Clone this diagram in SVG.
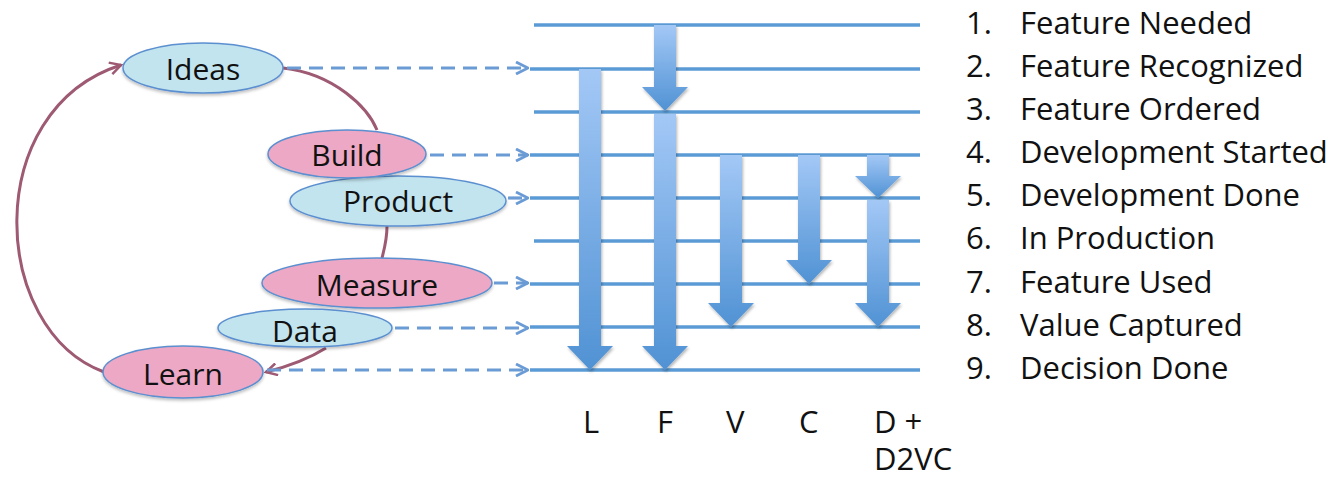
<svg xmlns="http://www.w3.org/2000/svg" width="1335" height="478" viewBox="0 0 1335 478">
<style>
text{font-family:"Open Sans","Liberation Sans",sans-serif;font-size:31px;fill:#111}
.node text{text-anchor:middle;font-size:30px}
.blue{fill:#c2e4ee;stroke:#5b8fd0;stroke-width:1.5}
.pink{fill:#eca8c4;stroke:#5b8fd0;stroke-width:1.5}
.hl{stroke:#5b9bd5;stroke-width:3.5;fill:none}
.dash{stroke:#6b9bd4;stroke-width:3.2;fill:none;stroke-dasharray:14 8;marker-end:url(#chev)}
.cyc{stroke:#9e5a73;stroke-width:3;fill:none}
.arr{fill:url(#ag);filter:url(#sh)}
</style>
<defs>
<linearGradient id="ag" x1="0" y1="0" x2="0" y2="1">
<stop offset="0" stop-color="#a3c8f6"/>
<stop offset="1" stop-color="#5092d4"/>
</linearGradient>
<filter id="sh" x="-30%" y="-10%" width="160%" height="130%">
<feDropShadow dx="1" dy="2" stdDeviation="1.5" flood-color="#000" flood-opacity="0.3"/>
</filter>
<filter id="esh" x="-10%" y="-20%" width="120%" height="150%">
<feDropShadow dx="0" dy="2" stdDeviation="1.5" flood-color="#000" flood-opacity="0.25"/>
</filter>
<marker id="chev" viewBox="0 0 14 14" refX="13" refY="7" markerWidth="14" markerHeight="14" markerUnits="userSpaceOnUse" orient="auto">
<path d="M1,1 L13,7 L1,13" fill="none" stroke="#6b9bd4" stroke-width="2.8"/>
</marker>
<marker id="mchev" viewBox="0 0 14 14" refX="12" refY="7" markerWidth="14" markerHeight="14" markerUnits="userSpaceOnUse" orient="auto">
<path d="M1,1 L12,7 L1,13" fill="none" stroke="#9e5a73" stroke-width="2.5"/>
</marker>
</defs>

<g id="timeline-lines">
<line class="hl" x1="534" y1="25" x2="920" y2="25"/>
<line class="hl" x1="530" y1="69" x2="920" y2="69"/>
<line class="hl" x1="534" y1="112" x2="920" y2="112"/>
<line class="hl" x1="530" y1="155" x2="920" y2="155"/>
<line class="hl" x1="530" y1="198" x2="920" y2="198"/>
<line class="hl" x1="534" y1="241" x2="920" y2="241"/>
<line class="hl" x1="530" y1="284" x2="920" y2="284"/>
<line class="hl" x1="530" y1="327" x2="920" y2="327"/>
<line class="hl" x1="530" y1="370" x2="920" y2="370"/>
</g>

<g id="connectors">
<path class="cyc" d="M104,372 C-10,330 -20,110 121,65" marker-end="url(#mchev)"/>
<path class="cyc" d="M283,68 C335,74 368,108 377,130"/>
<path class="cyc" d="M387,226 C387,240 384,250 382,258"/>
<path class="cyc" d="M326,348 C310,358 290,366 266,372" marker-end="url(#mchev)"/>
<path class="dash" d="M287,68 H528"/>
<path class="dash" d="M430,155 H528"/>
<path class="dash" d="M508,198 H528"/>
<path class="dash" d="M494,283 H528"/>
<path class="dash" d="M395,328 H528"/>
<path class="dash" d="M267,370 H528"/>
</g>

<g id="arrows">
<path id="arrow-L" class="arr" d="M579,69 H601 V346 H613 L590,370 L567,346 H579 Z"/>
<path id="arrow-F1" class="arr" d="M654,25 H676 V87 H688 L665,111 L642,87 H654 Z"/>
<path id="arrow-F2" class="arr" d="M654,114 H676 V346 H688 L665,370 L642,346 H654 Z"/>
<path id="arrow-V" class="arr" d="M720,155 H742 V303 H754 L731,327 L708,303 H720 Z"/>
<path id="arrow-C" class="arr" d="M798,155 H820 V260 H832 L809,284 L786,260 H798 Z"/>
<path id="arrow-D1" class="arr" d="M867,155 H889 V176 H901 L878,198 L855,176 H867 Z"/>
<path id="arrow-D2" class="arr" d="M867,200 H889 V303 H901 L878,327 L855,303 H867 Z"/>
</g>

<g id="node-ideas" class="node"><ellipse class="blue" filter="url(#esh)" cx="203" cy="68" rx="80" ry="25"/><text x="203" y="80">Ideas</text></g>
<g id="node-product" class="node"><ellipse class="blue" filter="url(#esh)" cx="398" cy="201" rx="108" ry="25"/><text x="398" y="212">Product</text></g>
<g id="node-build" class="node"><ellipse class="pink" filter="url(#esh)" cx="347" cy="154" rx="79" ry="24"/><text x="347" y="166">Build</text></g>
<g id="node-measure" class="node"><ellipse class="pink" filter="url(#esh)" cx="377" cy="283" rx="115" ry="25"/><text x="377" y="296">Measure</text></g>
<g id="node-data" class="node"><ellipse class="blue" filter="url(#esh)" cx="305" cy="328" rx="87" ry="19"/><text x="305" y="342">Data</text></g>
<g id="node-learn" class="node"><ellipse class="pink" filter="url(#esh)" cx="183" cy="372" rx="80" ry="26"/><text x="183" y="385">Learn</text></g>

<g id="legend">
<text x="966" y="34">1.</text><text x="1020" y="34">Feature Needed</text>
<text x="966" y="77">2.</text><text x="1020" y="77">Feature Recognized</text>
<text x="966" y="120">3.</text><text x="1020" y="120">Feature Ordered</text>
<text x="966" y="163">4.</text><text x="1020" y="163">Development Started</text>
<text x="966" y="206">5.</text><text x="1020" y="206">Development Done</text>
<text x="966" y="249">6.</text><text x="1020" y="249">In Production</text>
<text x="966" y="293">7.</text><text x="1020" y="293">Feature Used</text>
<text x="966" y="336">8.</text><text x="1020" y="336">Value Captured</text>
<text x="966" y="379">9.</text><text x="1020" y="379">Decision Done</text>
</g>

<g id="column-labels">
<text x="583" y="433">L</text>
<text x="657" y="433">F</text>
<text x="726" y="433">V</text>
<text x="799" y="433">C</text>
<text x="874" y="433"><tspan x="874" y="433">D +</tspan><tspan x="874" y="470">D2VC</tspan></text>
</g>
</svg>
